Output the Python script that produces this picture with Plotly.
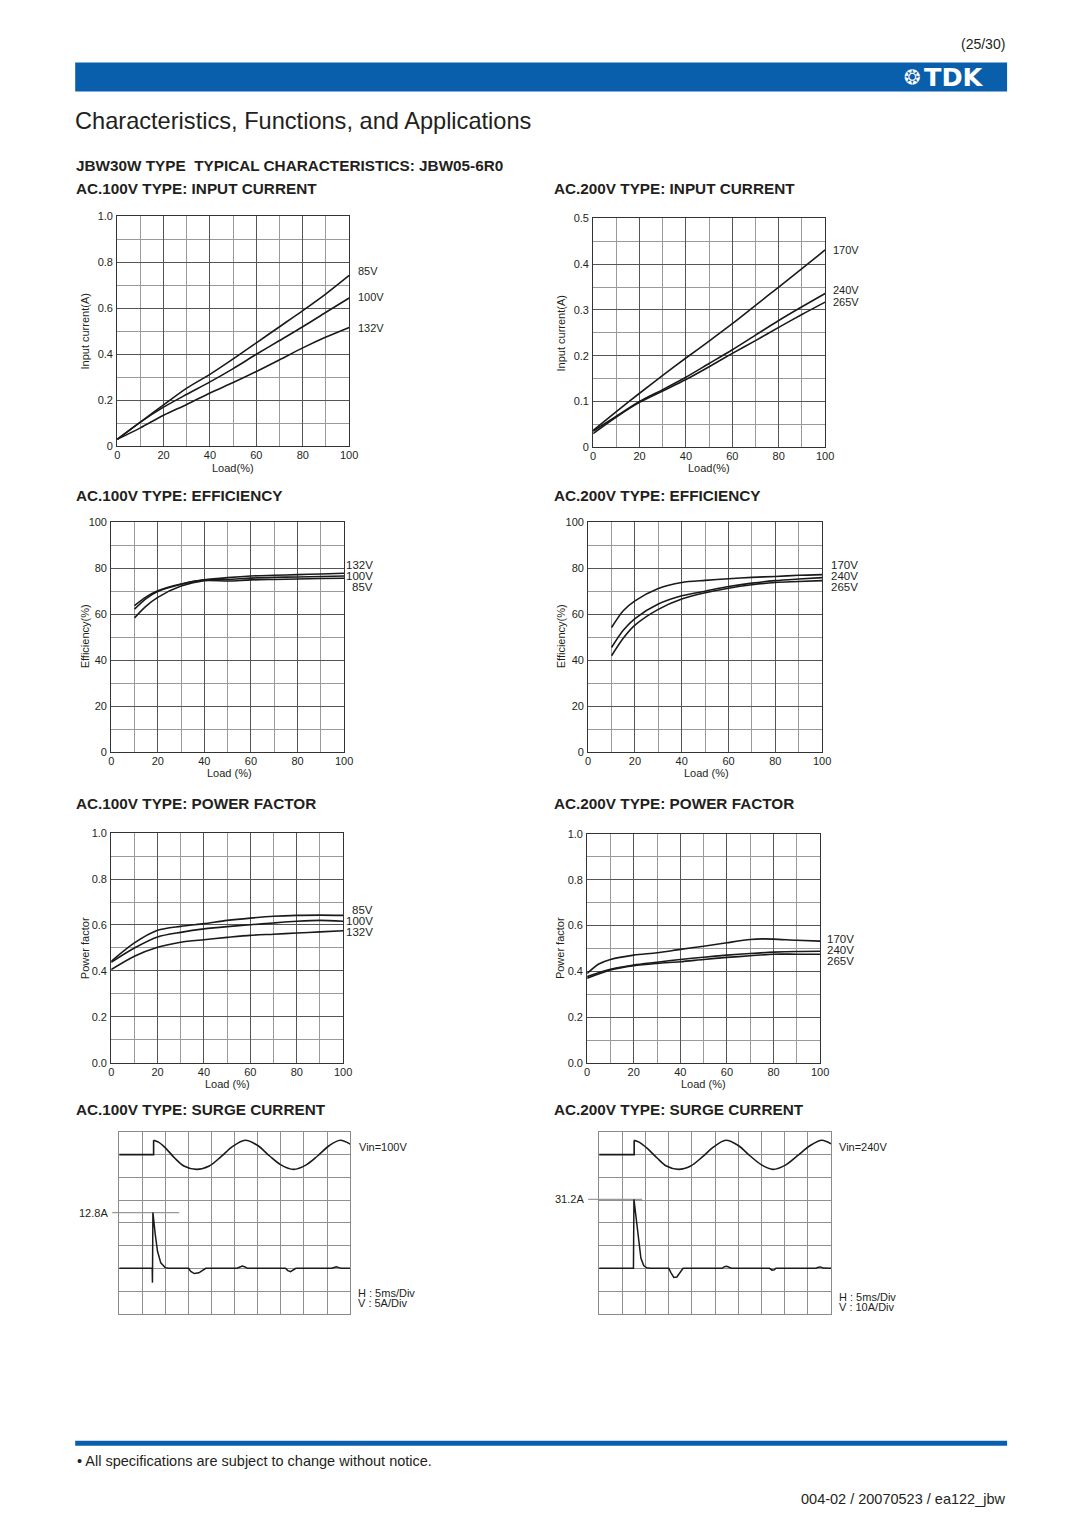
import plotly.graph_objects as go

W, H = 1080, 1528
FONT = "Liberation Sans, Arial, Helvetica, sans-serif"
BLUE = "#0a5fac"
TXT = "#231f20"
LINE = "#1a1a1a"

# ---------------- data ----------------
load = [0, 10, 20, 30, 40, 50, 60, 70, 80, 90, 100]
load_eff = [10, 15, 20, 30, 40, 50, 60, 70, 80, 90, 100]
load_pf170 = [0, 5, 10, 20, 30, 40, 50, 60, 70, 75, 80, 90, 100]

# AC.100V input current (A)
ic100_names = ["85V", "100V", "132V"]
ic100_85 = [0.03, 0.105, 0.18, 0.253, 0.313, 0.38, 0.45, 0.52, 0.59, 0.663, 0.743]
ic100_100 = [0.03, 0.105, 0.17, 0.226, 0.28, 0.338, 0.40, 0.46, 0.52, 0.583, 0.645]
ic100_132 = [0.03, 0.08, 0.135, 0.182, 0.232, 0.277, 0.325, 0.376, 0.428, 0.475, 0.517]

# AC.200V input current (A)
ic200_names = ["170V", "240V", "265V"]
ic200_170 = [0.037, 0.078, 0.118, 0.157, 0.195, 0.232, 0.27, 0.31, 0.35, 0.39, 0.431]
ic200_240 = [0.035, 0.068, 0.1, 0.126, 0.153, 0.183, 0.213, 0.245, 0.277, 0.307, 0.336]
ic200_265 = [0.03, 0.066, 0.098, 0.123, 0.148, 0.176, 0.205, 0.233, 0.262, 0.29, 0.317]

# AC.100V efficiency (%)
eff100_names = ["132V", "100V", "85V"]
eff100_132 = [63.7, 67.5, 70.2, 73.1, 74.9, 75.9, 76.6, 76.9, 77.2, 77.5, 77.8]
eff100_100 = [62.2, 66.8, 69.8, 73.0, 74.9, 75.1, 75.7, 76.0, 76.2, 76.4, 76.6]
eff100_85 = [58.4, 63.5, 67.3, 72.2, 74.6, 74.4, 74.9, 75.1, 75.3, 75.5, 75.6]

# AC.200V efficiency (%)
eff200_names = ["170V", "240V", "265V"]
eff200_170 = [54.2, 61.5, 65.8, 71.2, 73.8, 74.7, 75.4, 76.0, 76.4, 76.9, 77.2]
eff200_240 = [45.5, 53.0, 58.1, 64.4, 68.0, 70.0, 72.0, 73.5, 74.6, 75.3, 75.9]
eff200_265 = [41.9, 49.5, 55.2, 62.1, 66.6, 69.3, 71.3, 72.8, 73.8, 74.2, 74.6]

# AC.100V power factor
pf100_names = ["85V", "100V", "132V"]
pf100_85 = [0.442, 0.522, 0.577, 0.594, 0.606, 0.62, 0.63, 0.638, 0.642, 0.643, 0.642]
pf100_100 = [0.438, 0.50, 0.548, 0.568, 0.583, 0.593, 0.601, 0.609, 0.616, 0.62, 0.616]
pf100_132 = [0.406, 0.464, 0.503, 0.525, 0.536, 0.546, 0.555, 0.56, 0.565, 0.57, 0.575]

# AC.200V power factor
pf200_names = ["170V", "240V", "265V"]
pf200_170 = [0.391, 0.432, 0.452, 0.471, 0.481, 0.496, 0.51, 0.525, 0.539, 0.542, 0.541, 0.536, 0.532]
pf200_240 = [0.377, 0.409, 0.428, 0.44, 0.452, 0.462, 0.471, 0.478, 0.484, 0.487, 0.488]
pf200_265 = [0.37, 0.406, 0.425, 0.435, 0.442, 0.452, 0.461, 0.468, 0.475, 0.475, 0.475]

# Surge current oscillograms (time and amplitude in screen divisions)
s100_vstep_t = [0, 1.49, 1.49]
s100_vstep_y = [7.0, 7.0, 7.63]
s100_vwave_t = [1.49, 1.7, 2.0, 2.4, 2.8, 3.36, 3.9, 4.4, 4.9, 5.45, 6.0, 6.5, 7.0, 7.55, 8.1, 8.6, 9.1, 9.57, 10.0]
s100_vwave_y = [7.63, 7.55, 7.3, 6.85, 6.5, 6.35, 6.5, 6.9, 7.35, 7.63, 7.4, 6.95, 6.55, 6.35, 6.55, 6.95, 7.4, 7.63, 7.46]
s100_i_t = [0, 1.43, 1.44, 1.46, 1.56, 1.66, 1.8, 1.99, 2.15, 3.0, 3.1, 3.25, 3.45, 3.65, 3.75,
            5.1, 5.22, 5.33, 5.45, 5.55, 7.2, 7.3, 7.42, 7.55, 7.65, 9.2, 9.3, 9.4, 9.52, 9.62, 10.0]
s100_i_y = [2.0, 2.0, 1.37, 4.45, 3.5, 2.75, 2.24, 2.03, 2.0, 2.0, 1.86, 1.77, 1.8, 1.95, 2.0,
            2.0, 2.07, 2.1, 2.06, 2.0, 2.0, 1.9, 1.85, 1.92, 2.0, 2.0, 2.05, 2.07, 2.03, 2.0, 2.0]
s100_peak_label = "12.8A"
s100_vin = "Vin=100V"
s100_scale = ["H : 5ms/Div", "V : 5A/Div"]

s200_vstep_t = [0, 1.51, 1.51]
s200_vstep_y = [7.0, 7.0, 7.63]
s200_vwave_t = [1.51, 1.72, 2.1, 2.5, 2.9, 3.42, 3.95, 4.45, 4.95, 5.46, 6.0, 6.5, 7.0, 7.49, 8.05, 8.55, 9.1, 9.6, 10.0]
s200_vwave_y = [7.63, 7.55, 7.25, 6.85, 6.5, 6.35, 6.5, 6.9, 7.35, 7.63, 7.4, 6.95, 6.55, 6.35, 6.55, 6.95, 7.4, 7.63, 7.47]
s200_i_t = [0, 1.48, 1.5, 1.55, 1.62, 1.7, 1.8, 1.92, 2.05, 2.2, 3.0, 3.1, 3.22, 3.35, 3.5, 3.62,
            5.3, 5.4, 5.5, 5.62, 5.7, 7.35, 7.45, 7.55, 7.62, 9.35, 9.45, 9.55, 9.65, 10.0]
s200_i_y = [2.0, 2.0, 5.03, 4.6, 3.8, 3.05, 2.45, 2.12, 2.02, 2.0, 2.0, 1.8, 1.6, 1.62, 1.85, 2.0,
            2.0, 2.07, 2.09, 2.03, 2.0, 2.0, 1.92, 1.93, 2.0, 2.0, 2.05, 2.06, 2.01, 2.0]
s200_peak_label = "31.2A"
s200_vin = "Vin=240V"
s200_scale = ["H : 5ms/Div", "V : 10A/Div"]

pct_ticks = [0, 20, 40, 60, 80, 100]

# compensation for the page offset/scale observed in the capture
SX, OX = 0.989, 10.8
SY, OY = 0.9927, 13.5


def px(x):
    return ((x - OX) / SX) / W


def py(y):
    return 1 - ((y - OY) / SY) / H


fig = go.Figure()
layout_axes = {}
annotations = []
shapes = []


def text(x, y, s, size=11, xanchor="left", bold=False, color=TXT, angle=0, family=FONT, yanchor="middle", **kw):
    annotations.append(dict(
        x=px(x), y=py(y), xref="paper", yref="paper", text=f"<b>{s}</b>" if bold else s,
        showarrow=False, xanchor=xanchor, yanchor=yanchor, textangle=angle,
        font=dict(family=family, size=size, color=color), **kw))


def char_axes(n, dom_x, dom_y, yrange, yvals, ytext, yminor, xminor=10):
    xa = dict(domain=[px(dom_x[0]), px(dom_x[1])], range=[0, 100], anchor=f"y{n}",
              tickmode="array", tickvals=pct_ticks, ticktext=[str(v) for v in pct_ticks],
              showgrid=True, gridcolor="#555555", gridwidth=1,
              minor=dict(dtick=xminor, tick0=0, showgrid=True, gridcolor="#9a9a9a", gridwidth=1),
              showline=True, linecolor="#333333", linewidth=1, mirror=True,
              zeroline=False, ticks="", tickfont=dict(family=FONT, size=11, color=TXT),
              fixedrange=True, ticklabelstandoff=-1)
    ya = dict(domain=[py(dom_y[1]), py(dom_y[0])], range=yrange, anchor=f"x{n}",
              tickmode="array", tickvals=yvals, ticktext=ytext,
              showgrid=True, gridcolor="#555555", gridwidth=1,
              minor=dict(dtick=yminor, tick0=0, showgrid=True, gridcolor="#9a9a9a", gridwidth=1),
              showline=True, linecolor="#333333", linewidth=1, mirror=True,
              zeroline=False, ticks="", tickfont=dict(family=FONT, size=11, color=TXT),
              fixedrange=True, ticklabelstandoff=1)
    layout_axes[f"xaxis{n}"] = xa
    layout_axes[f"yaxis{n}"] = ya


def curves(n, xs_list, ys_list):
    for xs, ys in zip(xs_list, ys_list):
        fig.add_trace(go.Scatter(x=xs, y=ys, mode="lines", xaxis=f"x{n}", yaxis=f"y{n}",
                                 line=dict(color=LINE, width=1.6, shape="spline", smoothing=0.8),
                                 hoverinfo="skip", showlegend=False))


unit_ticks = [0, 0.2, 0.4, 0.6, 0.8, 1.0]

# 1 AC100 input current
char_axes(1, (117, 349), (216, 446), [0, 1.0], unit_ticks, ["0", "0.2", "0.4", "0.6", "0.8", "1.0"], 0.1)
curves(1, [load] * 3, [ic100_85, ic100_100, ic100_132])
# 2 AC200 input current
char_axes(2, (593, 825), (218, 447), [0, 0.5], [0, 0.1, 0.2, 0.3, 0.4, 0.5], ["0", "0.1", "0.2", "0.3", "0.4", "0.5"], 0.05)
curves(2, [load] * 3, [ic200_170, ic200_240, ic200_265])
# 3 AC100 efficiency
char_axes(3, (111, 344), (522, 752), [0, 100], pct_ticks, [str(v) for v in pct_ticks], 10)
curves(3, [load_eff] * 3, [eff100_132, eff100_100, eff100_85])
# 4 AC200 efficiency
char_axes(4, (588, 822), (522, 752), [0, 100], pct_ticks, [str(v) for v in pct_ticks], 10)
curves(4, [load_eff] * 3, [eff200_170, eff200_240, eff200_265])
# 5 AC100 power factor
char_axes(5, (111, 343), (833, 1063), [0, 1.0], unit_ticks, ["0.0", "0.2", "0.4", "0.6", "0.8", "1.0"], 0.1)
curves(5, [load] * 3, [pf100_85, pf100_100, pf100_132])
# 6 AC200 power factor
char_axes(6, (587, 820), (834, 1063), [0, 1.0], unit_ticks, ["0.0", "0.2", "0.4", "0.6", "0.8", "1.0"], 0.1)
curves(6, [load_pf170, load, load], [pf200_170, pf200_240, pf200_265])


# surge oscillograms
def surge_axes(n, dom_x, dom_y):
    common = dict(showgrid=True, gridcolor="#8f8f8f", gridwidth=1, dtick=1, tick0=0,
                  showline=True, linecolor="#8a8a8a", linewidth=1, mirror=True,
                  zeroline=False, showticklabels=False, ticks="", fixedrange=True)
    layout_axes[f"xaxis{n}"] = dict(domain=[px(dom_x[0]), px(dom_x[1])], range=[0, 10], anchor=f"y{n}", **common)
    layout_axes[f"yaxis{n}"] = dict(domain=[py(dom_y[1]), py(dom_y[0])], range=[0, 8], anchor=f"x{n}", **common)


def surge_traces(n, vst, vsy, vwt, vwy, it, iy):
    fig.add_trace(go.Scatter(x=vst, y=vsy, mode="lines", xaxis=f"x{n}", yaxis=f"y{n}",
                             line=dict(color=LINE, width=1.6), hoverinfo="skip", showlegend=False))
    fig.add_trace(go.Scatter(x=vwt, y=vwy, mode="lines", xaxis=f"x{n}", yaxis=f"y{n}",
                             line=dict(color=LINE, width=1.6, shape="spline", smoothing=0.9),
                             hoverinfo="skip", showlegend=False))
    fig.add_trace(go.Scatter(x=it, y=iy, mode="lines", xaxis=f"x{n}", yaxis=f"y{n}",
                             line=dict(color=LINE, width=1.5), hoverinfo="skip", showlegend=False))


surge_axes(7, (119, 350), (1132, 1314))
surge_traces(7, s100_vstep_t, s100_vstep_y, s100_vwave_t, s100_vwave_y, s100_i_t, s100_i_y)
surge_axes(8, (599, 831), (1132, 1314))
surge_traces(8, s200_vstep_t, s200_vstep_y, s200_vwave_t, s200_vwave_y, s200_i_t, s200_i_y)

# peak reference lines + labels (tied to the measured peak on the y axis)
for n, iy, x0, x1, lbl, lx in [(7, s100_i_y, 112, 179, s100_peak_label, 110),
                              (8, s200_i_y, 588, 642, s200_peak_label, 586)]:
    pk = max(iy)
    shapes.append(dict(type="line", xref="paper", yref=f"y{n}", x0=px(x0), x1=px(x1), y0=pk, y1=pk,
                       line=dict(color="#9a9a9a", width=1.2), layer="below"))
    annotations.append(dict(x=px(lx), y=pk, xref="paper", yref=f"y{n}", text=lbl, showarrow=False,
                            xanchor="right", yanchor="middle", font=dict(family=FONT, size=11, color=TXT)))

# ---------------- page furniture ----------------
shapes.append(dict(type="rect", xref="paper", yref="paper", x0=px(75), x1=px(1007), y0=py(91), y1=py(62),
                   fillcolor=BLUE, line=dict(width=0), layer="below"))
shapes.append(dict(type="rect", xref="paper", yref="paper", x0=px(75), x1=px(1007), y0=py(1446), y1=py(1441),
                   fillcolor=BLUE, line=dict(width=0), layer="below"))

text(1007, 44, "(25/30)", size=14, xanchor="right")
text(912, 77, "❂", size=20, xanchor="center", color="white", family="DejaVu Sans")
text(986, 77, "<b>TDK</b>", size=25.5, xanchor="right", color="white", family="DejaVu Sans")
text(73, 121, "Characteristics, Functions, and Applications", size=23.6)
text(74, 165, "JBW30W TYPE  TYPICAL CHARACTERISTICS: JBW05-6R0", size=15.3, bold=True)

for (x, y, s) in [(74, 188, "AC.100V TYPE: INPUT CURRENT"), (552, 188, "AC.200V TYPE: INPUT CURRENT"),
                  (74, 495, "AC.100V TYPE: EFFICIENCY"), (552, 495, "AC.200V TYPE: EFFICIENCY"),
                  (74, 803, "AC.100V TYPE: POWER FACTOR"), (552, 803, "AC.200V TYPE: POWER FACTOR"),
                  (74, 1110, "AC.100V TYPE: SURGE CURRENT"), (552, 1110, "AC.200V TYPE: SURGE CURRENT")]:
    text(x, y, s, size=15.3, bold=True)

# axis titles
for (x, y, s) in [(233, 468, "Load(%)"), (709, 468, "Load(%)"),
                  (229, 773, "Load (%)"), (706, 773, "Load (%)"),
                  (227, 1084, "Load (%)"), (703, 1084, "Load (%)")]:
    text(x, y, s, size=11, xanchor="center")
for (x, y, s) in [(85, 331, "Input current(A)"), (561, 333, "Input current(A)"),
                  (85, 636, "Efficiency(%)"), (561, 636, "Efficiency(%)"),
                  (85, 948, "Power factor"), (560, 948, "Power factor")]:
    text(x, y, s, size=11, xanchor="center", angle=-90)

# curve labels
for (x, ys, names, anchor, size) in [(356, [271, 297, 328], ic100_names, "left", 11),
                                     (831, [250, 290, 302], ic200_names, "left", 11),
                                     (375, [565, 576, 587], eff100_names, "right", 11.5),
                                     (829, [565, 576, 587], eff200_names, "left", 11.5),
                                     (375, [910, 921, 932], pf100_names, "right", 11.5),
                                     (825, [939, 950, 961], pf200_names, "left", 11.5)]:
    for y, s in zip(ys, names):
        text(x, y, s, size=size, xanchor=anchor)

text(357, 1147, s100_vin, size=11)
text(356, 1293, s100_scale[0], size=11)
text(356, 1303, s100_scale[1], size=11)
text(837, 1147, s200_vin, size=11)
text(837, 1297, s200_scale[0], size=11)
text(837, 1307, s200_scale[1], size=11)

text(75, 1461, "• All specifications are subject to change without notice.", size=14.5)
text(1008, 1499, "004-02 / 20070523 / ea122_jbw", size=14.5, xanchor="right")

fig.update_layout(width=W, height=H, margin=dict(l=0, r=0, t=0, b=0), autosize=False,
                  paper_bgcolor="white", plot_bgcolor="white", showlegend=False,
                  annotations=annotations, shapes=shapes, **layout_axes)
fig.write_html("out.html")
